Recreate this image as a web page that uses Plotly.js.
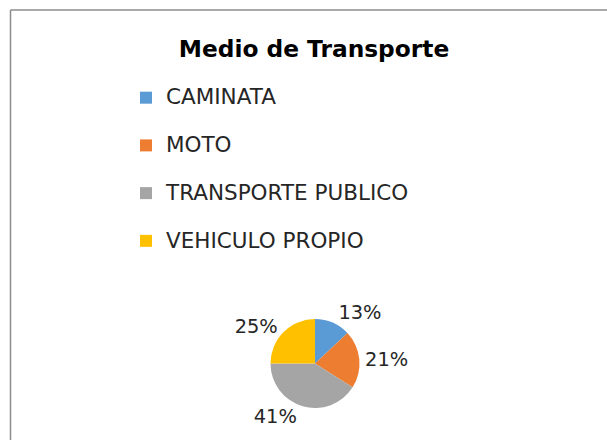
<!DOCTYPE html>
<html>
<head>
<meta charset="utf-8">
<script src="https://cdn.plot.ly/plotly-3.0.1.min.js"></script>
<style>
html,body{margin:0;padding:0;background:#fff;}
#chart{width:607px;height:440px;}
</style>
</head>
<body>
<div id="chart"></div>
<script>
// Data
var categories = ['CAMINATA', 'MOTO', 'TRANSPORTE PUBLICO', 'VEHICULO PROPIO'];
var values = [13, 21, 41, 25];
var sliceColors = ['#5B9BD5', '#ED7D31', '#A5A5A5', '#FFC000'];
var chartTitle = 'Medio de Transporte';

var legendTextSize = 21.5;
var displayLabels = categories.map(function (c) {
  return '<span style="font-size:' + legendTextSize + 'px">' + c + '</span><br>&nbsp;';
});

var W = 607, H = 440;
var cx = 315, cy = 363.5, r = 44.5;

var trace = {
  type: 'pie',
  labels: displayLabels,
  values: values,
  sort: false,
  direction: 'clockwise',
  rotation: 0,
  marker: {colors: sliceColors, line: {width: 0}},
  textinfo: 'percent',
  textposition: 'outside',
  texttemplate: '%{percent:.0%}',
  outsidetextfont: {family: 'DejaVu Sans', size: 19.4, color: '#262626'},
  hoverinfo: 'none',
  domain: {
    x: [(cx - r) / W, (cx + r) / W],
    y: [(H - cy - r) / H, (H - cy + r) / H]
  }
};

var layout = {
  width: W,
  height: H,
  margin: {l: 0, r: 0, t: 0, b: 0},
  paper_bgcolor: '#ffffff',
  plot_bgcolor: '#ffffff',
  showlegend: true,
  title: {
    text: '<b>' + chartTitle + '</b>',
    font: {family: 'DejaVu Sans', size: 23.3, color: '#000000'},
    x: 314 / W,
    xanchor: 'center',
    xref: 'paper',
    y: 1 - 48.8 / H,
    yanchor: 'middle',
    yref: 'container'
  },
  legend: {
    x: 126 / W,
    xanchor: 'left',
    y: 1 - 80 / H,
    yanchor: 'top',
    valign: 'top',
    font: {family: 'DejaVu Sans', size: 17.2, color: '#262626'},
    bgcolor: 'rgba(0,0,0,0)',
    borderwidth: 0,
    traceorder: 'normal'
  },
  shapes: [
    {type: 'line', xref: 'paper', yref: 'paper', x0: 10.5 / W, x1: 10.5 / W, y0: 0, y1: 1 - 10 / H,
     line: {color: '#8C8C8C', width: 1.5}},
    {type: 'line', xref: 'paper', yref: 'paper', x0: 10.5 / W, x1: 1, y0: 1 - 10 / H, y1: 1 - 10 / H,
     line: {color: '#8C8C8C', width: 1.5}}
  ]
};

Plotly.newPlot('chart', [trace], layout, {staticPlot: true, displayModeBar: false});
</script>
</body>
</html>
